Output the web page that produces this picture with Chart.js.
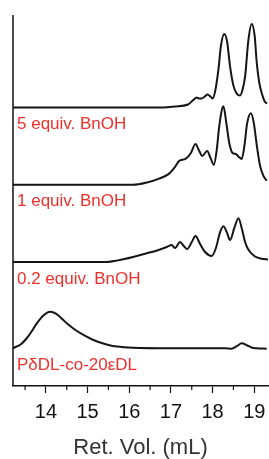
<!DOCTYPE html>
<html>
<head>
<meta charset="utf-8">
<script src="https://cdn.jsdelivr.net/npm/chart.js@4"></script>
<style>
  html, body { margin: 0; padding: 0; background: #fff; }
  #wrap { width: 269px; height: 459px; position: relative; }
</style>
</head>
<body>
<div id="wrap"><canvas id="myChart"></canvas></div>
<script>
// retention volume (mL) / relative signal
const vol5 = [13.21, 16.0, 16.81, 17.1, 17.41, 17.55, 17.62, 17.68, 17.74, 17.81, 17.88, 17.95, 18.0, 18.06, 18.14, 18.2, 18.28, 18.35, 18.42, 18.5, 18.58, 18.66, 18.72, 18.78, 18.86, 18.94, 19.01, 19.06, 19.12, 19.19, 19.25, 19.31]
const sig5 = [0, 0, 0, 1, 3, 8, 10, 9, 9, 11, 13, 11, 9, 16, 38, 62, 74, 66, 41, 22, 14, 12, 18, 31, 68, 84, 72, 45, 25, 13, 6, 4]

const vol1 = [13.21, 16.09, 16.4, 16.7, 16.95, 17.1, 17.2, 17.35, 17.48, 17.59, 17.67, 17.75, 17.87, 17.95, 18.03, 18.1, 18.16, 18.26, 18.33, 18.4, 18.48, 18.56, 18.63, 18.7, 18.76, 18.83, 18.92, 18.99, 19.06, 19.14, 19.22, 19.3]
const sig1 = [0, 0, 2, 6, 11, 18, 24, 26, 32, 41, 35, 29, 34, 27, 20, 35, 59, 79, 62, 42, 32, 31, 28, 26, 38, 62, 72, 62, 40, 19, 9, 4]

const vol02 = [13.21, 15.46, 15.73, 16.09, 16.4, 16.67, 16.9, 17.02, 17.1, 17.22, 17.31, 17.39, 17.5, 17.59, 17.7, 17.82, 17.98, 18.08, 18.18, 18.26, 18.34, 18.42, 18.52, 18.62, 18.7, 18.78, 18.85, 19.0, 19.18, 19.33]
const sig02 = [0, 0, 1.6, 5, 8.5, 11.6, 15, 17, 14, 20, 16, 13, 20, 26, 18, 10, 6, 14, 30, 36, 30, 22, 34, 44, 34, 20, 13, 6, 3.3, 2.6]

const volP = [13.21, 13.4, 13.54, 13.66, 13.78, 13.94, 14.1, 14.25, 14.4, 14.5, 14.7, 14.9, 15.1, 15.3, 15.5, 15.7, 16.09, 17.0, 18.3, 18.45, 18.58, 18.7, 18.82, 18.95, 19.06, 19.3]
const sigP = [0, 4, 10, 17, 25, 33, 36.7, 34.5, 29, 25, 18.5, 13.3, 9, 5.7, 3.3, 1.7, 0.5, 0, 0, -0.5, 2, 5, 3, 0.5, 0, -0.5]

const sampleNames = ['5 equiv. BnOH', '1 equiv. BnOH', '0.2 equiv. BnOH', 'P\u03B4DL-co-20\u03B5DL']
const stackOffsets = [280, 202.3, 124.7, 38]

const xTicks = [13.5, 14, 14.5, 15, 15.5, 16, 16.5, 17, 17.5, 18, 18.5, 19]

const traces = [[vol5, sig5], [vol1, sig1], [vol02, sig02], [volP, sigP]]

const red = 'rgb(238, 48, 44)'

const datasets = traces.map(([v, s], i) => ({
  label: sampleNames[i],
  data: v.map((x, j) => ({ x: x, y: s[j] + stackOffsets[i] })),
  borderColor: '#151515',
  borderWidth: 2,
  pointRadius: 0,
  cubicInterpolationMode: 'monotone',
  fill: false,
}))

// red sample names under each baseline + left axis line + minor ticks
const extras = {
  id: 'extras',
  afterDraw(chart) {
    const ctx = chart.ctx
    const area = chart.chartArea
    const ys = chart.scales.y
    const xs = chart.scales.x
    ctx.save()
    ctx.strokeStyle = '#111'
    ctx.lineWidth = 1.5
    ctx.beginPath()
    ctx.moveTo(area.left, area.top)
    ctx.lineTo(area.left, area.bottom)
    ctx.stroke()

    ctx.lineWidth = 1.2
    xTicks.forEach((t) => {
      if (t % 1 === 0) return
      const px = xs.getPixelForValue(t)
      ctx.beginPath()
      ctx.moveTo(px, area.bottom)
      ctx.lineTo(px, area.bottom + 4)
      ctx.stroke()
    })

    ctx.fillStyle = red
    ctx.font = '17px "Liberation Sans", Arial, sans-serif'
    ctx.textBaseline = 'middle'
    sampleNames.forEach((name, i) => {
      const y = ys.getPixelForValue(stackOffsets[i]) + 17
      ctx.fillText(name, area.left + 4, y)
    })
    ctx.restore()
  },
}

const config = {
  type: 'line',
  data: { datasets: datasets },
  options: {
    responsive: true,
    maintainAspectRatio: false,
    animation: false,
    layout: { padding: { left: 13, right: 1, top: 15, bottom: 0 } },
    plugins: { legend: { display: false }, tooltip: { enabled: false } },
    scales: {
      x: {
        type: 'linear',
        min: 13.21,
        max: 19.33,
        afterBuildTicks: (scale) => {
          scale.ticks = xTicks.map((v) => ({ value: v }))
        },
        afterFit: (scale) => {
          scale.paddingLeft = 0
          scale.paddingRight = 0
        },
        grid: {
          drawOnChartArea: false,
          tickLength: 7,
          tickWidth: 1.2,
          tickColor: (c) => (c.tick && c.tick.value % 1 === 0 ? '#111' : 'rgba(0,0,0,0)'),
        },
        border: { display: true, color: '#111', width: 1.5 },
        ticks: {
          color: '#111',
          padding: 9,
          maxRotation: 0,
          autoSkip: false,
          font: { family: '"Liberation Sans", Arial, sans-serif', size: 20, lineHeight: 1 },
          callback: (v) => (v % 1 === 0 ? String(v) : ''),
        },
        title: {
          display: true,
          text: 'Ret. Vol. (mL)',
          color: '#333',
          padding: { top: 6, bottom: 0 },
          font: { family: '"Liberation Sans", Arial, sans-serif', size: 22, lineHeight: 1 },
        },
      },
      y: {
        display: false,
        min: 0,
        max: 373,
      },
    },
  },
  plugins: [extras],
}

var myChart = new Chart(document.getElementById('myChart'), config)
</script>
</body>
</html>
